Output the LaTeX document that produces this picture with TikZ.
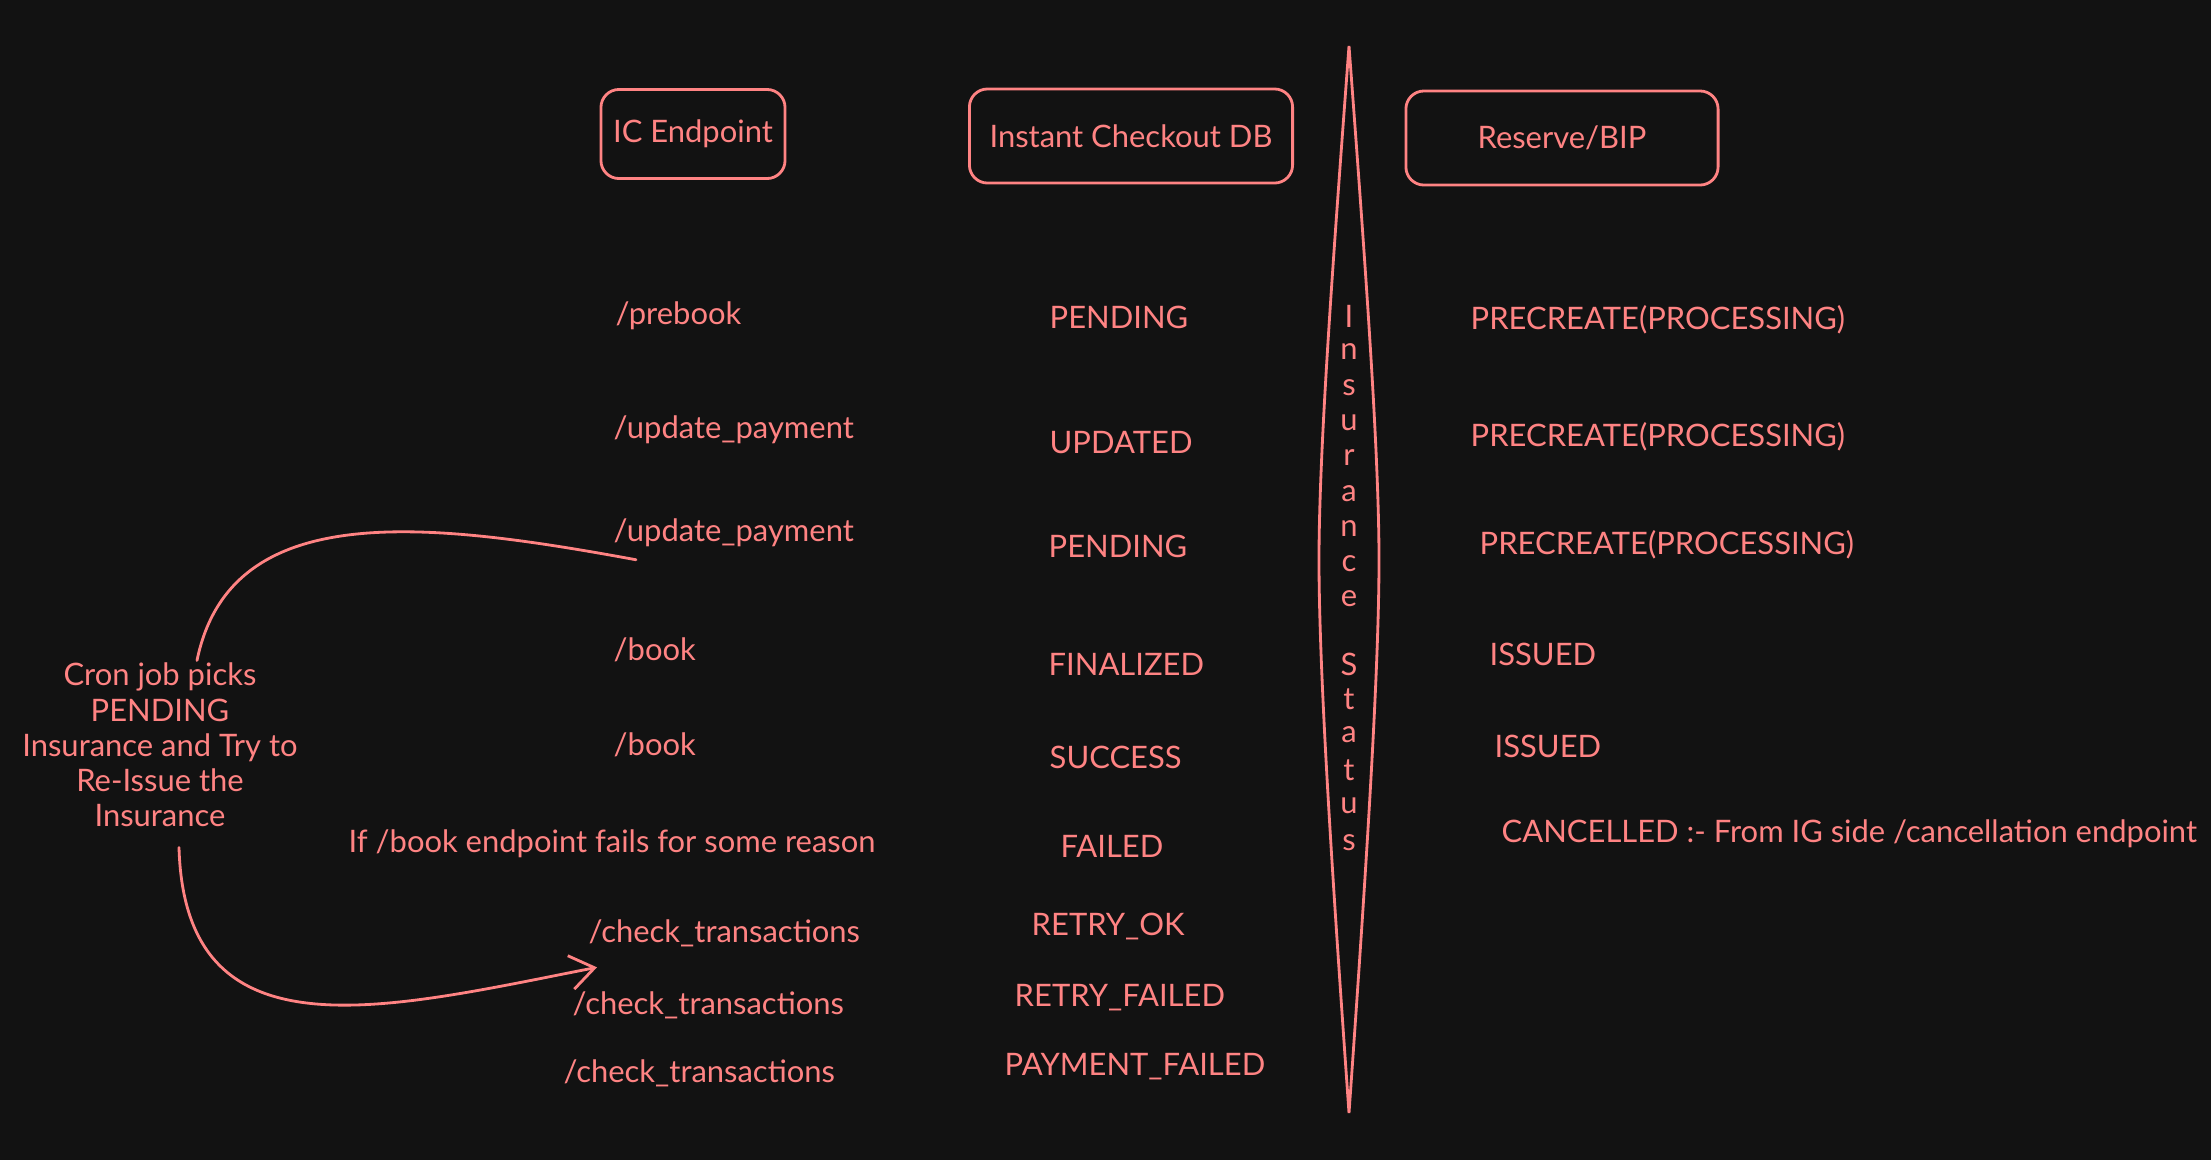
\documentclass[tikz,border=0pt]{standalone}
\usepackage{fontspec}
\setmainfont{Lato}
\usetikzlibrary{arrows.meta,calc}
\definecolor{bg}{HTML}{121212}
\definecolor{ink}{HTML}{FF8383}
\begin{document}
\begin{tikzpicture}[x=0.01cm,y=-0.01cm,
  font=\fontsize{8.8}{10}\selectfont,
  every node/.style={text=ink},
  txt/.style={anchor=west, inner sep=0pt},
  ctr/.style={inner sep=0pt},
  hbox/.style={draw=ink, line width=0.8pt, rounded corners=1.8mm, inner sep=0pt},
  conn/.style={draw=ink, line width=0.8pt, line cap=round}]
\fill[bg] (0,0) rectangle (2211,1160);
\useasboundingbox (0,0) rectangle (2211,1160);

% header boxes
\node[hbox, minimum width=1.84cm, minimum height=0.89cm] (ic) at (693,134) {IC Endpoint};
\node[hbox, minimum width=3.23cm, minimum height=0.94cm] (icdb) at (1131,136) {Instant Checkout DB};
\node[hbox, minimum width=3.12cm, minimum height=0.94cm] (bip) at (1562,138) {Reserve/BIP};

% lens
\draw[conn] (1349,46) .. controls (1333,260) and (1319,450) .. (1319,560)
  .. controls (1319,680) and (1334,900) .. (1349,1113)
  .. controls (1364,900) and (1379,680) .. (1379,560)
  .. controls (1379,450) and (1365,260) .. (1349,46) -- cycle;
\foreach \ch/\yy [count=\k] in {I/316, n/352, s/388, u/423, r/458, a/494, n/529, c/564, e/599, S/664, t/699, a/735, t/770, u/806, s/843}
  \node[ctr] (st\k) at (1349,\yy) {\ch};

% column 1
\node[txt] (e1) at (615,316) {/prebook};
\node[txt] (e2) at (613,430) {/update\_payment};
\node[txt] (e3) at (613,533) {/update\_payment};
\node[txt] (e4) at (613,650) {/book};
\node[txt] (e5) at (613,745) {/book};
\node[txt] (e6) at (348,844) {If /book endpoint fails for some reason};
\node[txt] (e7) at (588,933) {/check\_transactions};
\node[txt] (e8) at (572,1005) {/check\_transactions};
\node[txt] (e9) at (563,1073) {/check\_transactions};

% column 2
\node[txt] (d1) at (1049,317) {PENDING};
\node[txt] (d2) at (1049,443) {UPDATED};
\node[txt] (d3) at (1048,546) {PENDING};
\node[txt] (d4) at (1048,664) {FINALIZED};
\node[txt] (d5) at (1049,757) {SUCCESS};
\node[txt] (d6) at (1060,846) {FAILED};
\node[txt] (d7) at (1031,926) {RETRY\_OK};
\node[txt] (d8) at (1014,998) {RETRY\_FAILED};
\node[txt] (d9) at (1004,1067) {PAYMENT\_FAILED};

% column 3
\node[txt] (r1) at (1470,320) {PRECREATE(PROCESSING)};
\node[txt] (r2) at (1470,437) {PRECREATE(PROCESSING)};
\node[txt] (r3) at (1479,545) {PRECREATE(PROCESSING)};
\node[txt] (r4) at (1489,654) {ISSUED};
\node[txt] (r5) at (1494,746) {ISSUED};
\node[txt] (r6) at (1501,834) {CANCELLED :- From IG side /cancellation endpoint};

% cron note
\node[ctr, align=center] (cron) at (160,745) {Cron job picks\\PENDING\\Insurance and Try to\\Re-Issue the\\Insurance};

% connectors
\draw[conn] ($(cron.north)+(37,-2)$) .. controls (230,500) and (420,520) .. ($(e3.south west)+(23,12)$);
\draw[conn, -{Straight Barb[length=2.4mm,width=3.4mm]}] ($(cron.south)+(19,20)$) .. controls (185,1060) and (380,1010) .. ($(e7.south west)+(9,20)$);
\end{tikzpicture}
\end{document}
